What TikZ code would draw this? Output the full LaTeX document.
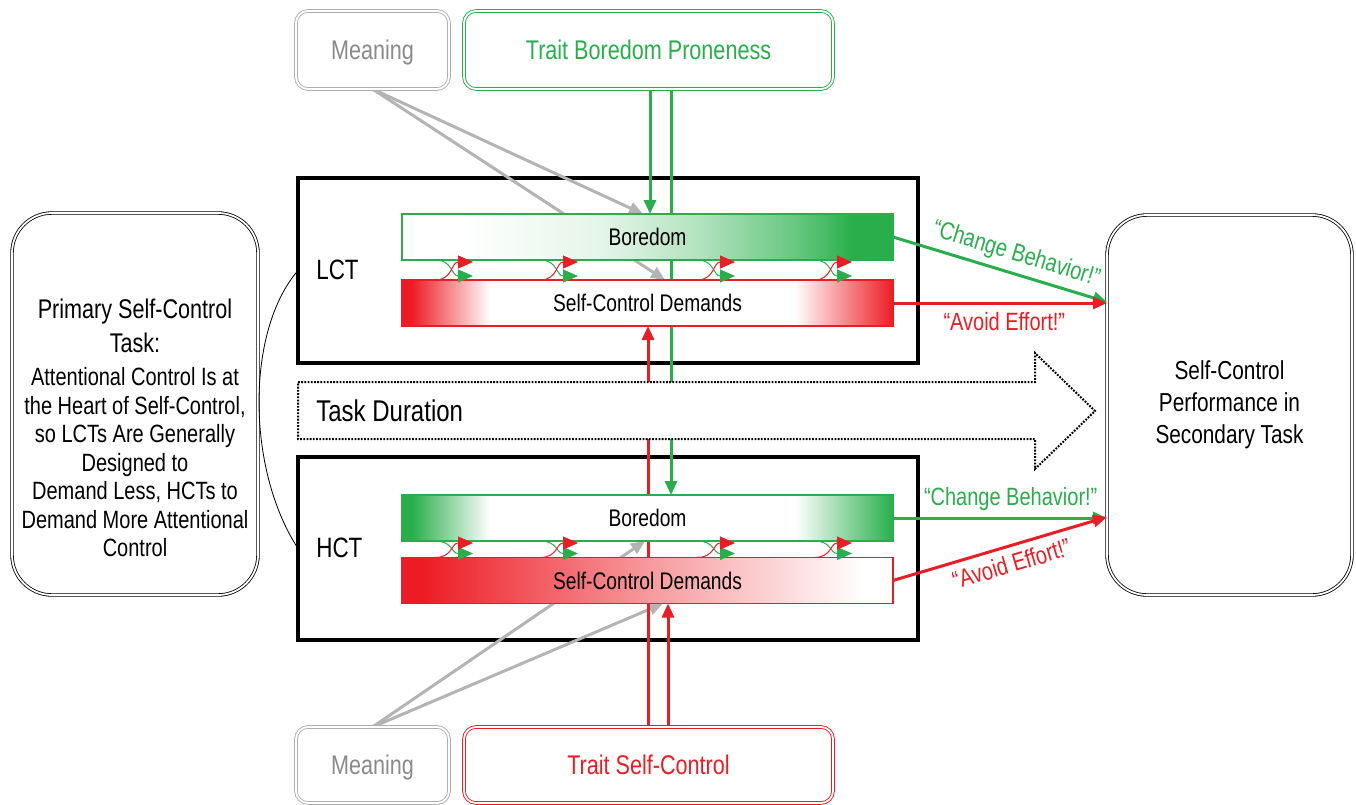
\documentclass[tikz,border=0pt]{standalone}
\usepackage{fontspec}
\setmainfont{Liberation Sans}[FakeStretch=0.8]
\usetikzlibrary{arrows.meta,calc}
\definecolor{grn}{RGB}{40,175,75}
\definecolor{rd}{RGB}{237,28,36}
\definecolor{gline}{RGB}{180,180,180}
\definecolor{gtext}{RGB}{138,138,138}
\definecolor{gbox}{RGB}{175,175,175}
\pgfdeclarelayer{bg}
\pgfdeclarelayer{mid}
\pgfsetlayers{bg,mid,main}
\pgfdeclarehorizontalshading{lctbore}{100bp}{color(0bp)=(white); color(31bp)=(white); color(45bp)=(grn!12); color(55bp)=(grn!35); color(65bp)=(grn!70); color(71bp)=(grn); color(100bp)=(grn)}
\pgfdeclarehorizontalshading{lctscd}{100bp}{color(0bp)=(rd); color(26bp)=(rd); color(30bp)=(rd!50); color(34bp)=(white); color(65bp)=(white); color(70bp)=(rd!50); color(75bp)=(rd); color(100bp)=(rd)}
\pgfdeclarehorizontalshading{hctbore}{100bp}{color(0bp)=(grn); color(26bp)=(grn); color(30bp)=(grn!50); color(34bp)=(white); color(65bp)=(white); color(70bp)=(grn!50); color(75bp)=(grn); color(100bp)=(grn)}
\pgfdeclarehorizontalshading{hctscd}{100bp}{color(0bp)=(rd); color(27bp)=(rd); color(50bp)=(rd!45); color(72bp)=(white); color(100bp)=(white)}
\newcommand\labfont{\fontsize{25}{30}\selectfont}
\begin{document}
\begin{tikzpicture}[x=1pt,y=-1pt,
  every node/.style={outer sep=0pt},
  topbox/.style={rounded corners=12pt, double=white, line width=0.9pt, double distance=1.8pt, font=\fontsize{27}{32}\selectfont, text height=19.4pt, text depth=0pt},
  sidebox/.style={draw=black, double=white, line width=0.8pt, double distance=1.8pt, rounded corners=40pt},
  taskbox/.style={draw=black, line width=4.5pt, minimum width=620pt},
  bar/.style={line width=1.5pt, minimum width=491pt, minimum height=46pt, font=\fontsize{24}{28}\selectfont, text=black, text height=17.2pt, text depth=0pt},
  tip/.style={-{Triangle[length=14pt,width=12pt]}},
  smalltip/.style={-{Triangle[length=15pt,width=13pt]}},
  gryarr/.style={gline, line width=3pt, tip},
  grnarr/.style={grn, line width=3pt, tip},
  rdarr/.style={rd, line width=3pt, tip}]
\useasboundingbox (0,0) rectangle (1356,805);

% top and bottom boxes
\node[topbox, draw=gbox, text=gtext, minimum width=153pt, minimum height=78pt] (mt) at (372.5,50) {Meaning};
\node[topbox, draw=grn, text=grn, minimum width=369pt, minimum height=78pt] (tbp) at (648.5,50) {Trait Boredom Proneness};
\node[topbox, draw=gbox, text=gtext, minimum width=153pt, minimum height=76pt] (mb) at (372.5,765) {Meaning};
\node[topbox, draw=rd, text=rd, minimum width=369pt, minimum height=76pt] (tsc) at (648.5,765) {Trait Self-Control};

% side boxes
\node[sidebox, minimum width=246pt, minimum height=382pt] (lbx) at (135,404) {};
\node[align=center, font=\fontsize{25}{28.5}\selectfont] (ltxt) at (135,428) {{\fontsize{27}{28.5}\selectfont Primary Self-Control}\\[5pt]{\fontsize{27}{28.5}\selectfont Task:}\\[5pt]Attentional Control Is at\\the Heart of Self-Control,\\so LCTs Are Generally\\Designed to\\Demand Less, HCTs to\\Demand More Attentional\\Control};
\node[sidebox, minimum width=245pt, minimum height=380pt, align=center, font=\fontsize{26}{32}\selectfont] (rbx) at (1229.5,405) {Self-Control\\Performance in\\Secondary Task};

% task boxes
\begin{pgfonlayer}{bg}
\node[taskbox, minimum height=185pt] (lct) at (608,270.5) {};
\node[taskbox, minimum height=183pt] (hct) at (608,548.5) {};
\end{pgfonlayer}
\node[anchor=west, font=\fontsize{28}{32}\selectfont] (lctl) at (313,270) {LCT};
\node[anchor=west, font=\fontsize{28}{32}\selectfont] (hctl) at (313,548) {HCT};
\draw[line width=0.8pt] (lct.west) .. controls +(-52,60) and +(-52,-80) .. (hct.west);

% bars
\node[bar, draw=grn, shading=lctbore] (lb) at (647.5,237) {Boredom};
\node[bar, draw=rd, shading=lctscd] (ls) at (647.5,303) {Self-Control Demands};
\node[bar, draw=grn, shading=hctbore] (hb) at (647.5,518) {Boredom};
\node[bar, draw=rd, shading=hctscd] (hs) at (647.5,580.5) {Self-Control Demands};

% connectors behind bars
\begin{pgfonlayer}{mid}
\draw[gryarr] (mt.south) -- ([xshift=-4.5pt]lb.north);
\draw[gryarr] (mt.south) -- ([xshift=17.5pt]ls.north);
\draw[gryarr] (mb.north) -- ([xshift=15.5pt]hs.south);
\draw[gryarr] (mb.north) -- ([xshift=-2.5pt]hb.south);
\draw[grnarr] ([xshift=1.5pt]tbp.south) -- ([xshift=2.5pt]lb.north);
\draw[grnarr] ([xshift=22.5pt]tbp.south) -- ([xshift=23.5pt]hb.north);
\draw[rdarr] ([xshift=19.5pt]tsc.north) -- ([xshift=20.5pt]hs.south);
\draw[rdarr] ([xshift=-0.5pt]tsc.north) -- ([xshift=0.5pt]ls.south);
\draw[line width=2pt, dash pattern=on 1.8pt off 1.4pt, fill=white] (298,382) -- (1035,382) -- (1035,353) -- (1095,411) -- (1035,469) -- (1035,439) -- (298,439) -- cycle;
\node[anchor=west, font=\fontsize{30}{34}\selectfont] (td) at (313,411) {Task Duration};
\end{pgfonlayer}

% small reciprocal arrows
\foreach \o/\s in {-174.5/-212.5,-69.5/-107.5,87.5/49.5,204.5/166.5}{
  \draw[grn, line width=1pt, smalltip] ([xshift=\s pt]lb.south) .. controls +(18,0) and +(-22,0) .. ([xshift=\o pt, yshift=4pt]ls.north);
  \draw[rd, line width=1pt, smalltip] ([xshift=\s pt]ls.north) .. controls +(18,0) and +(-22,0) .. ([xshift=\o pt, yshift=-2pt]lb.south);
  \draw[grn, line width=1pt, smalltip] ([xshift=\s pt]hb.south) .. controls +(18,0) and +(-22,0) .. ([xshift=\o pt, yshift=4pt]hs.north);
  \draw[rd, line width=1pt, smalltip] ([xshift=\s pt]hs.north) .. controls +(18,0) and +(-22,0) .. ([xshift=\o pt, yshift=-2pt]hb.south);
}

% outputs
\draw[grnarr] (lb.east) -- node[pos=0.55, sloped, above=4pt, text=grn, font=\labfont] {“Change Behavior!”} ([yshift=103pt]rbx.west);
\draw[rdarr] (ls.east) -- node[pos=0.52, below=6pt, text=rd, font=\labfont] {“Avoid Effort!”} ([yshift=102pt]rbx.west);
\draw[grnarr] (hb.east) -- node[pos=0.55, above=4pt, text=grn, font=\labfont] {“Change Behavior!”} ([yshift=-113pt]rbx.west);
\draw[rdarr] (hs.east) -- node[pos=0.53, sloped, below=5pt, text=rd, font=\labfont] {“Avoid Effort!”} ([yshift=-112pt]rbx.west);
\end{tikzpicture}
\end{document}
